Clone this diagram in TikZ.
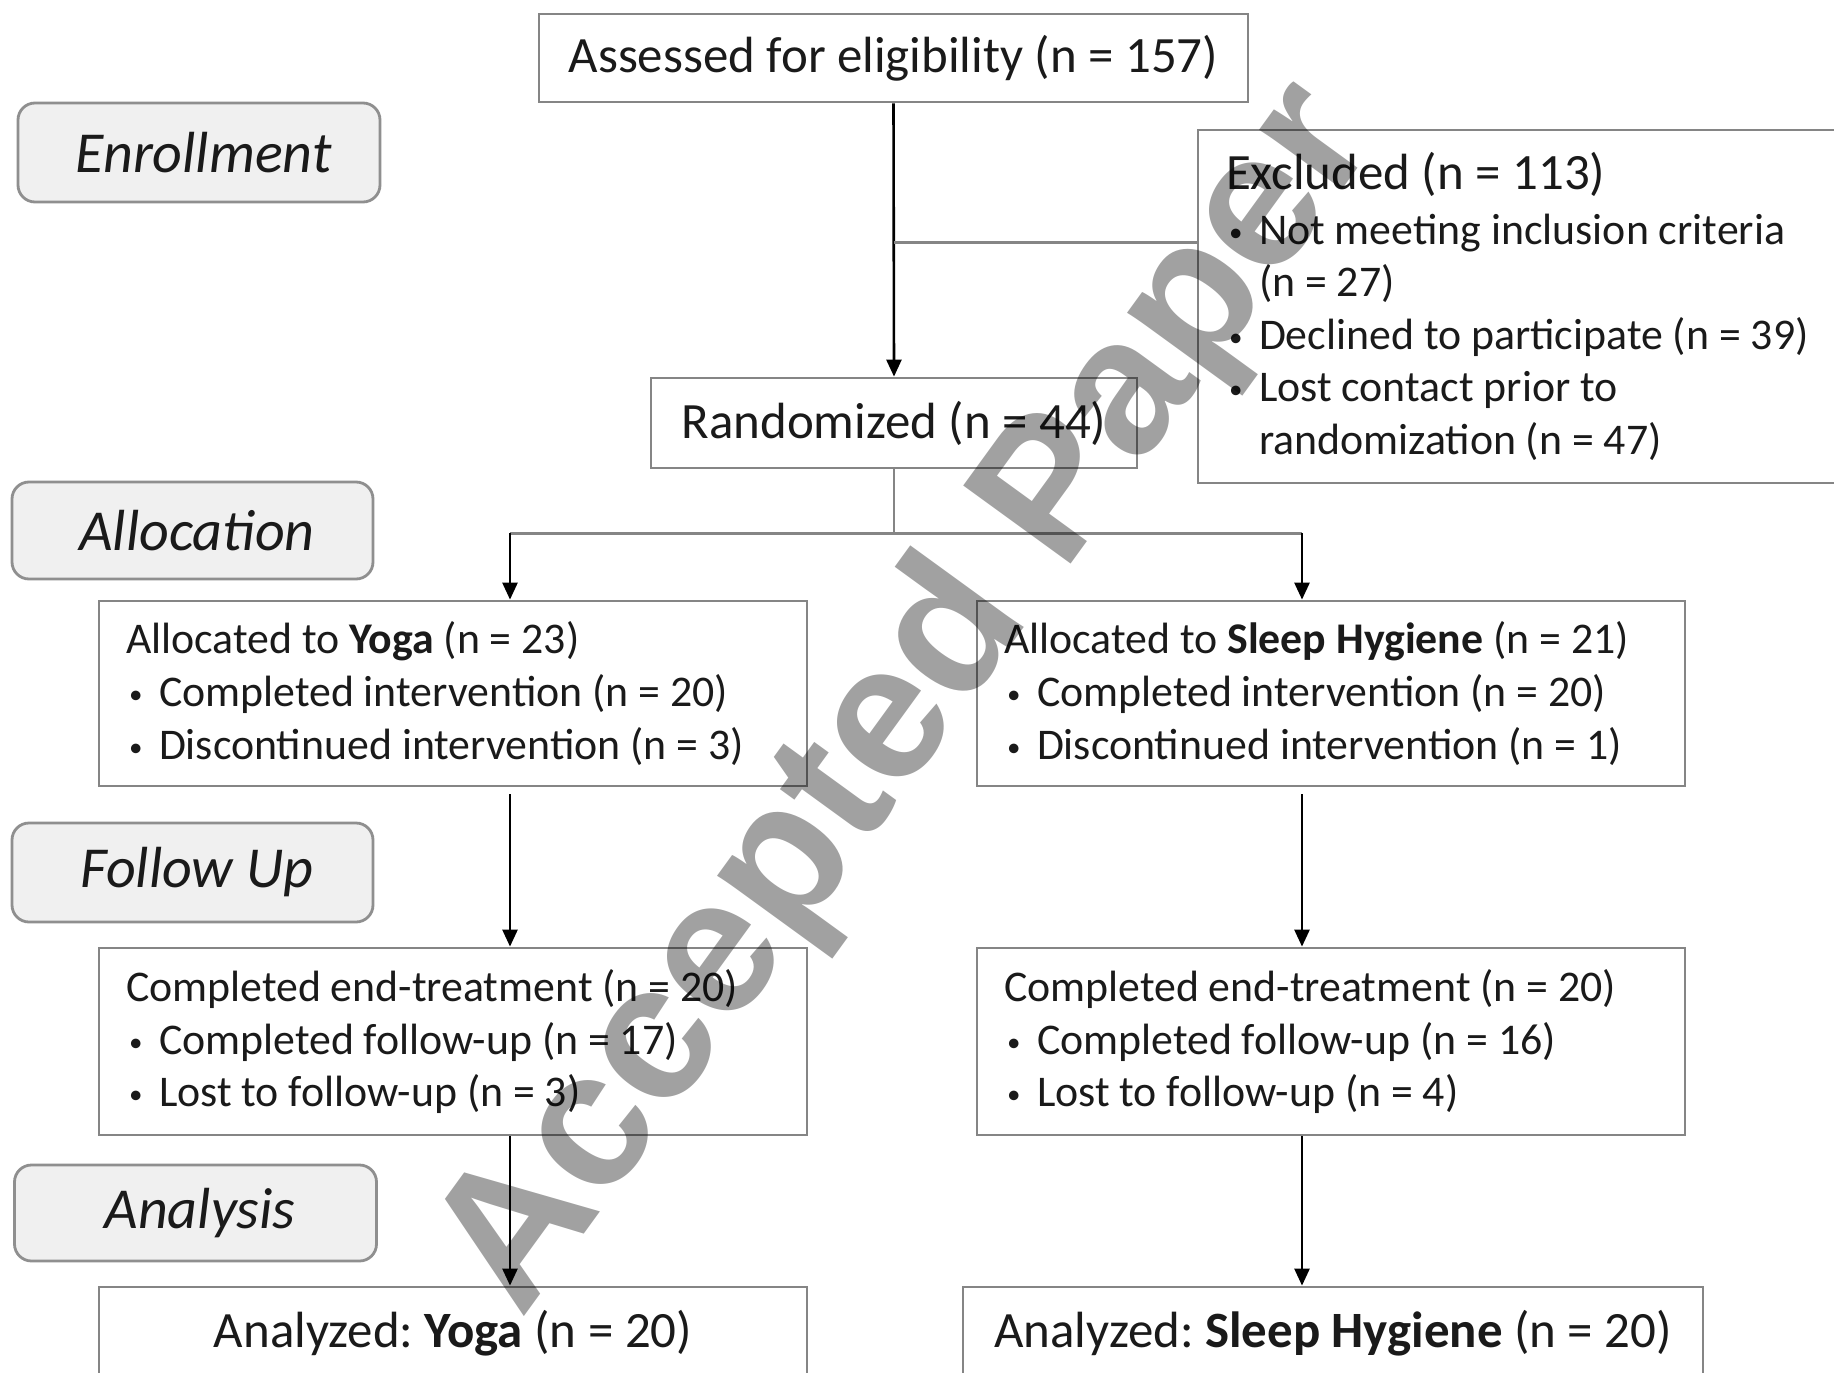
\documentclass[tikz,border=0pt]{standalone}
\usepackage{fontspec}
\setmainfont{Carlito}
\newfontfamily\wmfont{Liberation Sans}
\usetikzlibrary{arrows.meta}
\frenchspacing
\definecolor{boxgray}{HTML}{858585}
\definecolor{secfill}{HTML}{F0F0F0}
\definecolor{secdraw}{HTML}{8F8F8F}
\definecolor{txt}{HTML}{1A1A1A}
\newcommand{\bigtxt}{\fontsize{50.9}{60}\selectfont}
\newcommand{\smtxt}{\fontsize{43.8}{52.6}\selectfont}
\newcommand{\bul}{\makebox[33pt][l]{\hspace{3pt}\raisebox{3pt}{\fontsize{27}{27}\selectfont •}}}
\tikzset{
  flowbox/.style={draw=boxgray, line width=2.8pt, text=txt, inner ysep=0pt},
  leftbox/.style={flowbox, align=flush left, inner xsep=27pt, font=\smtxt},
  secbox/.style={draw=secdraw, fill=secfill, line width=2.8pt, rounded corners=17pt,
    text=txt, font=\fontsize{58}{60}\selectfont\itshape},
  arr/.style={line width=2.6pt, -{Triangle[length=17pt,width=15pt]}},
  gline/.style={draw=boxgray, line width=3pt},
  tline/.style={draw=boxgray, line width=1.6pt}
}
\begin{document}
\begin{tikzpicture}[x=1pt,y=-1pt]
\useasboundingbox (0,0) rectangle (1834,1373);
\clip (0,0) rectangle (1834,1373);
\fill[white] (0,0) rectangle (1834,1373);
% section labels
\node[secbox, minimum width=362pt, minimum height=99pt] (enr) at (199,152.5) {\hspace*{9pt}Enrollment};
\node[secbox, minimum width=361pt, minimum height=97pt] (alc) at (192.5,530.5) {\hspace*{9pt}Allocation};
\node[secbox, minimum width=361pt, minimum height=99pt] (fup) at (192.5,872.5) {\hspace*{9pt}Follow Up};
\node[secbox, minimum width=362pt, minimum height=96pt] (ana) at (195.5,1213) {\hspace*{9pt}Analysis};
% main boxes
\node[flowbox, font=\bigtxt, minimum width=709pt, minimum height=88pt] (ass) at (893.5,58) {Assessed for eligibility (n = 157)};
\node[flowbox, font=\bigtxt, minimum width=486pt, minimum height=90pt] (rand) at (894,423) {Randomized (n = 44)};
\node[leftbox, inner xsep=28pt, text width=606pt, minimum height=353pt] (excl) at (1529,306.5)
  {{\bigtxt Excluded (n = 113)}\\[2pt]
   \bul Not meeting inclusion criteria\\
   \hspace*{33pt}(n = 27)\\
   \bul Declined to participate (n = 39)\\
   \bul Lost contact prior to\\
   \hspace*{33pt}randomization (n = 47)};
\node[leftbox, text width=654pt, minimum height=185pt] (ya) at (453,693.5)
  {Allocated to \textbf{Yoga} (n = 23)\\
   \bul Completed intervention (n = 20)\\
   \bul Discontinued intervention (n = 3)};
\node[leftbox, text width=654pt, minimum height=185pt] (sa) at (1331,693.5)
  {Allocated to \textbf{Sleep Hygiene} (n = 21)\\
   \bul Completed intervention (n = 20)\\
   \bul Discontinued intervention (n = 1)};
\node[leftbox, text width=654pt, minimum height=187pt] (ye) at (453,1041.5)
  {Completed end-treatment (n = 20)\\
   \bul Completed follow-up (n = 17)\\
   \bul Lost to follow-up (n = 3)};
\node[leftbox, text width=654pt, minimum height=187pt] (se) at (1331,1041.5)
  {Completed end-treatment (n = 20)\\
   \bul Completed follow-up (n = 16)\\
   \bul Lost to follow-up (n = 4)};
\node[flowbox, font=\bigtxt, minimum width=708pt, minimum height=92pt] (yan) at (453,1333) {Analyzed: \textbf{Yoga} (n = 20)};
\node[flowbox, font=\bigtxt, minimum width=740pt, minimum height=92pt] (san) at (1333,1333) {Analyzed: \textbf{Sleep Hygiene} (n = 20)};
% connectors
\coordinate (ex) at (893.5,242);
\coordinate (jc) at (894,533);
\coordinate (jl) at (510,533);
\coordinate (jr) at (1302,533);
\draw[arr] (ass.south) -- (rand.north);
\draw[gline] (ex) -- (ex -| excl.west);
\draw[tline] (rand.south) -- (jc);
\draw[gline] (jl) -- (jr);
\draw[arr] (jl) -- (ya.north -| jl);
\draw[arr] (jr) -- (sa.north -| jr);
\draw[arr, shorten <=7pt] (ya.south -| jl) -- (ye.north -| jl);
\draw[arr, shorten <=7pt] (sa.south -| jr) -- (se.north -| jr);
\draw[arr] (ye.south -| jl) -- (yan.north -| jl);
\draw[arr] (se.south -| jr) -- (san.north -| jr);
% watermark
\node[rotate=54, anchor=base, text=black, text opacity=0.37, inner sep=0pt,
  font=\wmfont\bfseries\fontsize{193}{193}\selectfont] (wm) at (950,730) {Accepted Paper};
\end{tikzpicture}
\end{document}
